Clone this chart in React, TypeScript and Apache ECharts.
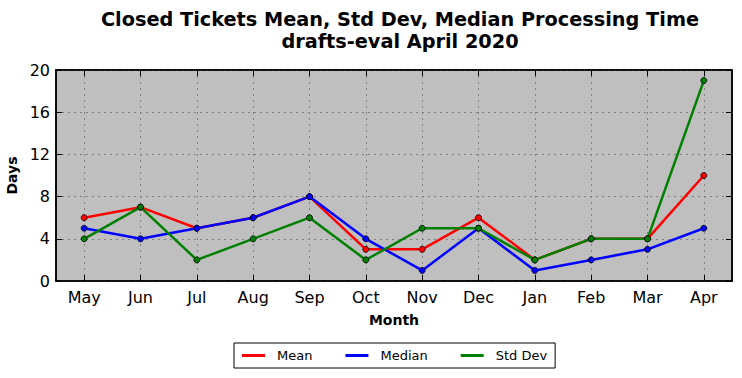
import React, { useEffect, useRef } from "react";
import * as echarts from "echarts";

const months = ["May", "Jun", "Jul", "Aug", "Sep", "Oct", "Nov", "Dec", "Jan", "Feb", "Mar", "Apr"];
const meanValues = [6, 7, 5, 6, 8, 3, 3, 6, 2, 4, 4, 10];
const medianValues = [5, 4, 5, 6, 8, 4, 1, 5, 1, 2, 3, 5];
const stdDevValues = [4, 7, 2, 4, 6, 2, 5, 5, 2, 4, 4, 19];

const FONT = "DejaVu Sans";

export default function App() {
  const ref = useRef<HTMLDivElement>(null);
  useEffect(() => {
    if (!ref.current) return;
    const chart = echarts.init(ref.current, null, { renderer: "svg" });
    const idx = months.map((_, i) => i);
    const mk = (name: string, data: number[], color: string) => ({
      name,
      type: "line",
      data: data.map((v, i) => [i, v]),
      symbol: "circle",
      symbolSize: 6,
      showSymbol: true,
      lineStyle: { color, width: 2.5 },
      itemStyle: { color, borderColor: "#000", borderWidth: 0.8 },
    });
    const xCommon = {
      type: "value",
      min: -0.5,
      max: 11.5,
      axisLine: { show: true, onZero: false, lineStyle: { color: "#000", width: 1.5 } },
      axisTick: { show: true, inside: true, length: 6, customValues: idx, lineStyle: { color: "#000" } },
    };
    const yCommon = {
      type: "value",
      min: 0,
      max: 20,
      interval: 4,
      axisLine: { show: true, onZero: false, lineStyle: { color: "#000", width: 1.5 } },
      axisTick: { show: true, inside: true, length: 6, lineStyle: { color: "#000" } },
    };
    chart.setOption({
      animation: false,
      backgroundColor: "#fff",
      title: {
        text: "Closed Tickets Mean, Std Dev, Median Processing Time\ndrafts-eval April 2020",
        left: 395,
        textAlign: "center",
        top: 3,
        textStyle: { fontFamily: FONT, fontWeight: "bold", fontSize: 19.3, color: "#000", lineHeight: 22 },
      },
      legend: {
        left: 234,
        top: 343,
        itemGap: 33,
        itemWidth: 23,
        itemHeight: 3,
        padding: [6, 8, 6, 8],
        borderColor: "#000",
        borderWidth: 1,
        icon: "rect",
        itemStyle: { borderWidth: 0 },
        textStyle: { fontFamily: FONT, fontSize: 13, color: "#000", padding: [0, 0, 0, 7] },
        data: ["Mean", "Median", "Std Dev"],
      },
      grid: {
        left: 56,
        right: 10,
        top: 70,
        bottom: 97,
        outerBoundsMode: "none",
        containLabel: false,
        backgroundColor: "#bfbfbf",
        show: true,
        borderColor: "#000",
        borderWidth: 1.5,
      },
      xAxis: [
        {
          ...xCommon,
          position: "bottom",
          name: "Month",
          nameLocation: "middle",
          nameGap: 32,
          nameTextStyle: { fontFamily: FONT, fontWeight: "bold", fontSize: 14, color: "#000" },
          axisLabel: {
            fontFamily: FONT,
            fontSize: 16,
            color: "#000",
            margin: 8,
            customValues: idx,
            formatter: (v: number) => months[Math.round(v)] ?? "",
          },
          splitLine: { show: true, lineStyle: { color: "#808080", type: [2, 4], width: 1 } },
        },
        {
          ...xCommon,
          position: "top",
          axisLabel: { show: false },
          splitLine: { show: false },
        },
      ],
      yAxis: [
        {
          ...yCommon,
          position: "left",
          name: "Days",
          nameLocation: "middle",
          nameGap: 29,
          nameTextStyle: { fontFamily: FONT, fontWeight: "bold", fontSize: 14, color: "#000" },
          axisLabel: { fontFamily: FONT, fontSize: 16, color: "#000", margin: 6 },
          splitLine: { show: true, lineStyle: { color: "#808080", type: [2, 4], width: 1 } },
        },
        {
          ...yCommon,
          position: "right",
          axisLabel: { show: false },
          splitLine: { show: false },
        },
      ],
      series: [
        mk("Mean", meanValues, "#ff0000"),
        mk("Median", medianValues, "#0000ff"),
        mk("Std Dev", stdDevValues, "#008000"),
      ],
    });
    return () => chart.dispose();
  }, []);
  return <div ref={ref} style={{ width: 742, height: 378, position: "absolute", left: 0, top: 0 }} />;
}
